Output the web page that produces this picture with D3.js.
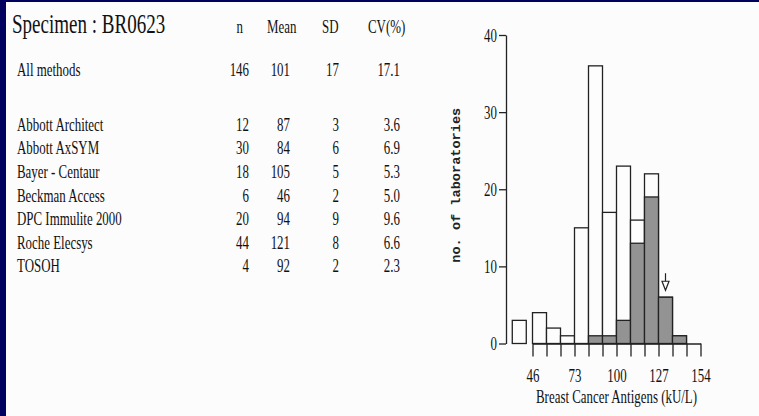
<!DOCTYPE html>
<html>
<head>
<meta charset="utf-8">
<script src="https://cdn.jsdelivr.net/npm/d3@7/dist/d3.min.js"></script>
<style>
  html, body { margin: 0; padding: 0; background: #00005e; }
  svg { display: block; }
</style>
</head>
<body>
<svg id="chart" width="759" height="416"></svg>
<script>
// ---------- DATA ----------
const specimen = "Specimen : BR0623";
const columnHeaders = ["n", "Mean", "SD", "CV(%)"];
const overallLabel = "All methods";
const overallValues = ["146", "101", "17", "17.1"];
const methods = ["Abbott Architect", "Abbott AxSYM", "Bayer - Centaur", "Beckman Access", "DPC Immulite 2000", "Roche Elecsys", "TOSOH"];
const methodN    = ["12", "30", "18", "6", "20", "44", "4"];
const methodMean = ["87", "84", "105", "46", "94", "121", "92"];
const methodSD   = ["3", "6", "5", "2", "9", "8", "2"];
const methodCV   = ["3.6", "6.9", "5.3", "5.0", "9.6", "6.6", "2.3"];

// histogram bins (kU/L), width 9
const binStarts   = [46, 55, 64, 73, 82, 91, 100, 109, 118, 127, 136, 145];
const binWidth = 9;
const totalCounts = [4, 2, 1, 15, 36, 17, 23, 16, 22, 6, 1, 0];
const rocheCounts = [0, 0, 0, 0, 1, 1, 3, 13, 19, 6, 1, 0];
// low out-of-range bin shown apart from the axis
const lowBin = { x0: 33, x1: 42, count: 3 };
const xTickLabels = [46, 73, 100, 127, 154];
const yTicks = [0, 10, 20, 30, 40];
const arrowValue = 131.5;
const xTitle = "Breast Cancer Antigens (kU/L)";
const yTitle = "no. of laboratories";

// ---------- DRAW ----------
const svg = d3.select("#chart");
const SX = 0.68;             // horizontally condensed type, as in the scan
const serif = "'Liberation Serif', 'Times New Roman', serif";

// white sheet
svg.append("rect").attr("x", 6).attr("y", 2).attr("width", 753).attr("height", 414).attr("fill", "#fcfcfd");

function txt(g, s, x, y, size, anchor) {
  return g.append("text")
    .attr("transform", `translate(${x},${y}) scale(${SX},1)`)
    .attr("text-anchor", anchor || "start")
    .attr("font-family", serif)
    .attr("font-size", size)
    .attr("fill", "#111")
    .text(s);
}

// ---- table ----
const tbl = svg.append("g");
txt(tbl, specimen, 12, 33, 28);
const colRight = [249, 290, 339, 400];
const headerX = [{x: 243, a: "end"}, {x: 267, a: "start"}, {x: 322, a: "start"}, {x: 368, a: "start"}];
columnHeaders.forEach((h, i) => txt(tbl, h, headerX[i].x, 33, 19, headerX[i].a));
txt(tbl, overallLabel, 17, 76, 19);
overallValues.forEach((v, i) => txt(tbl, v, colRight[i], 76, 19, "end"));

const rowY = d3.scaleBand().domain(methods).range([113, 278]).paddingInner(0);
methods.forEach((m, r) => {
  const by = rowY(m) + rowY.bandwidth() / 2 + 6;
  txt(tbl, m, 17, by, 19);
  [methodN, methodMean, methodSD, methodCV].forEach((arr, i) => txt(tbl, arr[r], colRight[i], by, 19, "end"));
});

// ---- histogram ----
const x = d3.scaleLinear().domain([46, 154]).range([532.5, 700.5]);
const y = d3.scaleLinear().domain([0, 40]).range([343.5, 35]);
const stroke = "#222";
const hg = svg.append("g");

const bins = binStarts.map((s, i) => ({ x0: s, x1: s + binWidth, total: totalCounts[i], roche: rocheCounts[i] }));

// open bars (all methods)
hg.selectAll("rect.tot").data(bins.filter(d => d.total > 0)).join("rect")
  .attr("class", "tot")
  .attr("x", d => x(d.x0)).attr("width", d => x(d.x1) - x(d.x0))
  .attr("y", d => y(d.total)).attr("height", d => y(0) - y(d.total))
  .attr("fill", "#fdfdfd").attr("stroke", stroke).attr("stroke-width", 1.3);

// shaded bars (Roche Elecsys)
hg.selectAll("rect.roche").data(bins.filter(d => d.roche > 0)).join("rect")
  .attr("class", "roche")
  .attr("x", d => x(d.x0)).attr("width", d => x(d.x1) - x(d.x0))
  .attr("y", d => y(d.roche)).attr("height", d => y(0) - y(d.roche))
  .attr("fill", "#939393").attr("stroke", stroke).attr("stroke-width", 1.3);

// low separate bar
hg.append("rect")
  .attr("x", x(lowBin.x0)).attr("width", x(lowBin.x1) - x(lowBin.x0))
  .attr("y", y(lowBin.count)).attr("height", y(0) - y(lowBin.count))
  .attr("fill", "#fdfdfd").attr("stroke", stroke).attr("stroke-width", 1.3);

// x axis
const edges = binStarts.concat([binStarts[binStarts.length - 1] + binWidth]);
const xAxis = d3.axisBottom(x).tickValues(edges).tickSize(13).tickSizeOuter(0)
  .tickFormat(d => xTickLabels.includes(d) ? d : "");
const gx = hg.append("g").attr("transform", `translate(0,${y(0)})`).call(xAxis);
gx.select(".domain").attr("stroke", stroke).attr("stroke-width", 1.3);
gx.selectAll(".tick line").attr("stroke", stroke).attr("stroke-width", 1.3);
gx.selectAll(".tick text")
  .attr("font-family", serif).attr("font-size", 19).attr("fill", "#111")
  .attr("y", 0).attr("dy", 0)
  .attr("transform", `translate(0,38) scale(${SX},1)`);

// y axis
const yAxis = d3.axisLeft(y).tickValues(yTicks).tickSize(7).tickSizeOuter(0).tickPadding(3);
const gy = hg.append("g").attr("transform", "translate(506,0)").call(yAxis);
gy.select(".domain").attr("stroke", stroke).attr("stroke-width", 1.3);
gy.selectAll(".tick line").attr("stroke", stroke).attr("stroke-width", 1.3);
gy.selectAll(".tick text")
  .attr("font-family", serif).attr("font-size", 19).attr("fill", "#111")
  .attr("x", 0).attr("dy", 0).attr("y", 0)
  .attr("transform", `translate(-9,6) scale(${SX},1)`);

// titles
txt(hg, xTitle, (x(46) + x(154)) / 2, 403, 19, "middle");
hg.append("text")
  .attr("transform", `translate(460,${(y(0) + y(40)) / 2 - 4}) rotate(-90)`)
  .attr("text-anchor", "middle")
  .attr("font-family", "'Liberation Mono', 'Courier New', monospace")
  .attr("font-weight", "bold")
  .attr("font-size", 13.6)
  .attr("fill", "#222")
  .text(yTitle);

// arrow over the bin containing arrowValue
const arrowBin = bins.find(d => arrowValue >= d.x0 && arrowValue < d.x1);
const ax = x(arrowValue);
const tipY = y(arrowBin.total) - 7;
hg.append("line").attr("x1", ax).attr("x2", ax).attr("y1", tipY - 17).attr("y2", tipY - 8)
  .attr("stroke", stroke).attr("stroke-width", 1.2);
hg.append("path")
  .attr("d", `M${ax - 3.5},${tipY - 9} L${ax + 3.5},${tipY - 9} L${ax},${tipY} Z`)
  .attr("fill", "#fdfdfd").attr("stroke", stroke).attr("stroke-width", 1.2);
</script>
</body>
</html>
